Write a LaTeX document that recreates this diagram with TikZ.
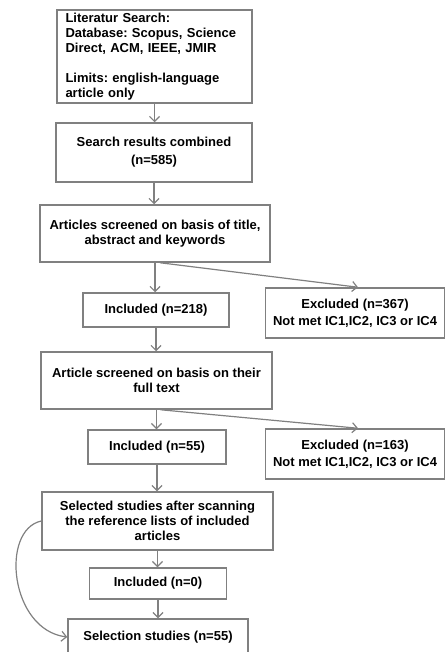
\documentclass[tikz,border=0pt]{standalone}
\usepackage{fontspec}
\setmainfont{Liberation Sans}
\usepackage{xcolor}
\usetikzlibrary{arrows.meta,positioning}
\definecolor{linegray}{RGB}{128,128,128}
\frenchspacing

\begin{document}
\begin{tikzpicture}[
    x=1pt, y=-1pt,
    font=\bfseries\fontsize{13}{15}\selectfont,
    box/.style={
        draw=linegray,
        line width=1.5pt,
        inner sep=0pt,
        align=center
    },
    excl/.style={
        box,
        minimum width=179,
        minimum height=50
    },
    arr/.style={-{Straight Barb[length=5pt,width=10pt]}, draw=linegray, line width=1.2pt}
]
\useasboundingbox (0,0) rectangle (446,652);

% main column
\node[box, minimum width=195, minimum height=93, text width=178, align=left] (search) at (154.5,56.5)
{Literatur Search:\\
Database: Scopus, Science\\
Direct, ACM, IEEE, JMIR\\[15pt]
Limits: english-language\\
article only};

\node[box, minimum width=196, minimum height=59] (combined) at (154,152.5)
{Search results combined\\[3pt](n=585)};

\node[box, minimum width=230, minimum height=57] (screen) at (155,233.5)
{Articles screened on basis of title,\\abstract and keywords};

\node[box, minimum width=146, minimum height=34] (inc1) at (156,310)
{Included (n=218)};

\node[box, minimum width=231, minimum height=57] (fulltext) at (156.5,380.5)
{Article screened on basis on their\\full text};

\node[box, minimum width=138, minimum height=34] (inc2) at (157,447)
{Included (n=55)};

\node[box, minimum width=231, minimum height=58] (reflist) at (157.5,521)
{Selected studies after scanning\\the reference lists of included\\articles};

\node[box, minimum width=137, minimum height=31] (inc3) at (158,583.5)
{Included (n=0)};

\node[box, minimum width=180, minimum height=36] (final) at (158,637)
{Selection studies (n=55)};

% excluded boxes
\node[excl] (excl1) at (355,313)
{Excluded (n=367)\\[2pt]Not met IC1,IC2, IC3 or IC4};

\node[excl] (excl2) at (355,454)
{Excluded (n=163)\\[2pt]Not met IC1,IC2, IC3 or IC4};

\draw[arr] (search.south) -- (search.south |- combined.north);
\draw[arr] (combined.south) -- (combined.south |- screen.north);
\draw[arr] (screen.south) -- (screen.south |- inc1.north);
\draw[arr] (inc1.south) -- (inc1.south |- fulltext.north);
\draw[arr] (fulltext.south) -- (fulltext.south |- inc2.north);
\draw[arr] (inc2.south) -- (inc2.south |- reflist.north);
\draw[arr] (reflist.south) -- (reflist.south |- inc3.north);
\draw[arr] (inc3.south) -- (inc3.south |- final.north);

\draw[arr] ([xshift=5pt]screen.south) -- ([xshift=3pt]excl1.north);
\draw[arr] ([xshift=4pt]fulltext.south) -- ([xshift=3pt]excl2.north);

\draw[arr] (reflist.west) .. controls (0,530) and (10,630) .. (final.west);

\end{tikzpicture}
\end{document}
